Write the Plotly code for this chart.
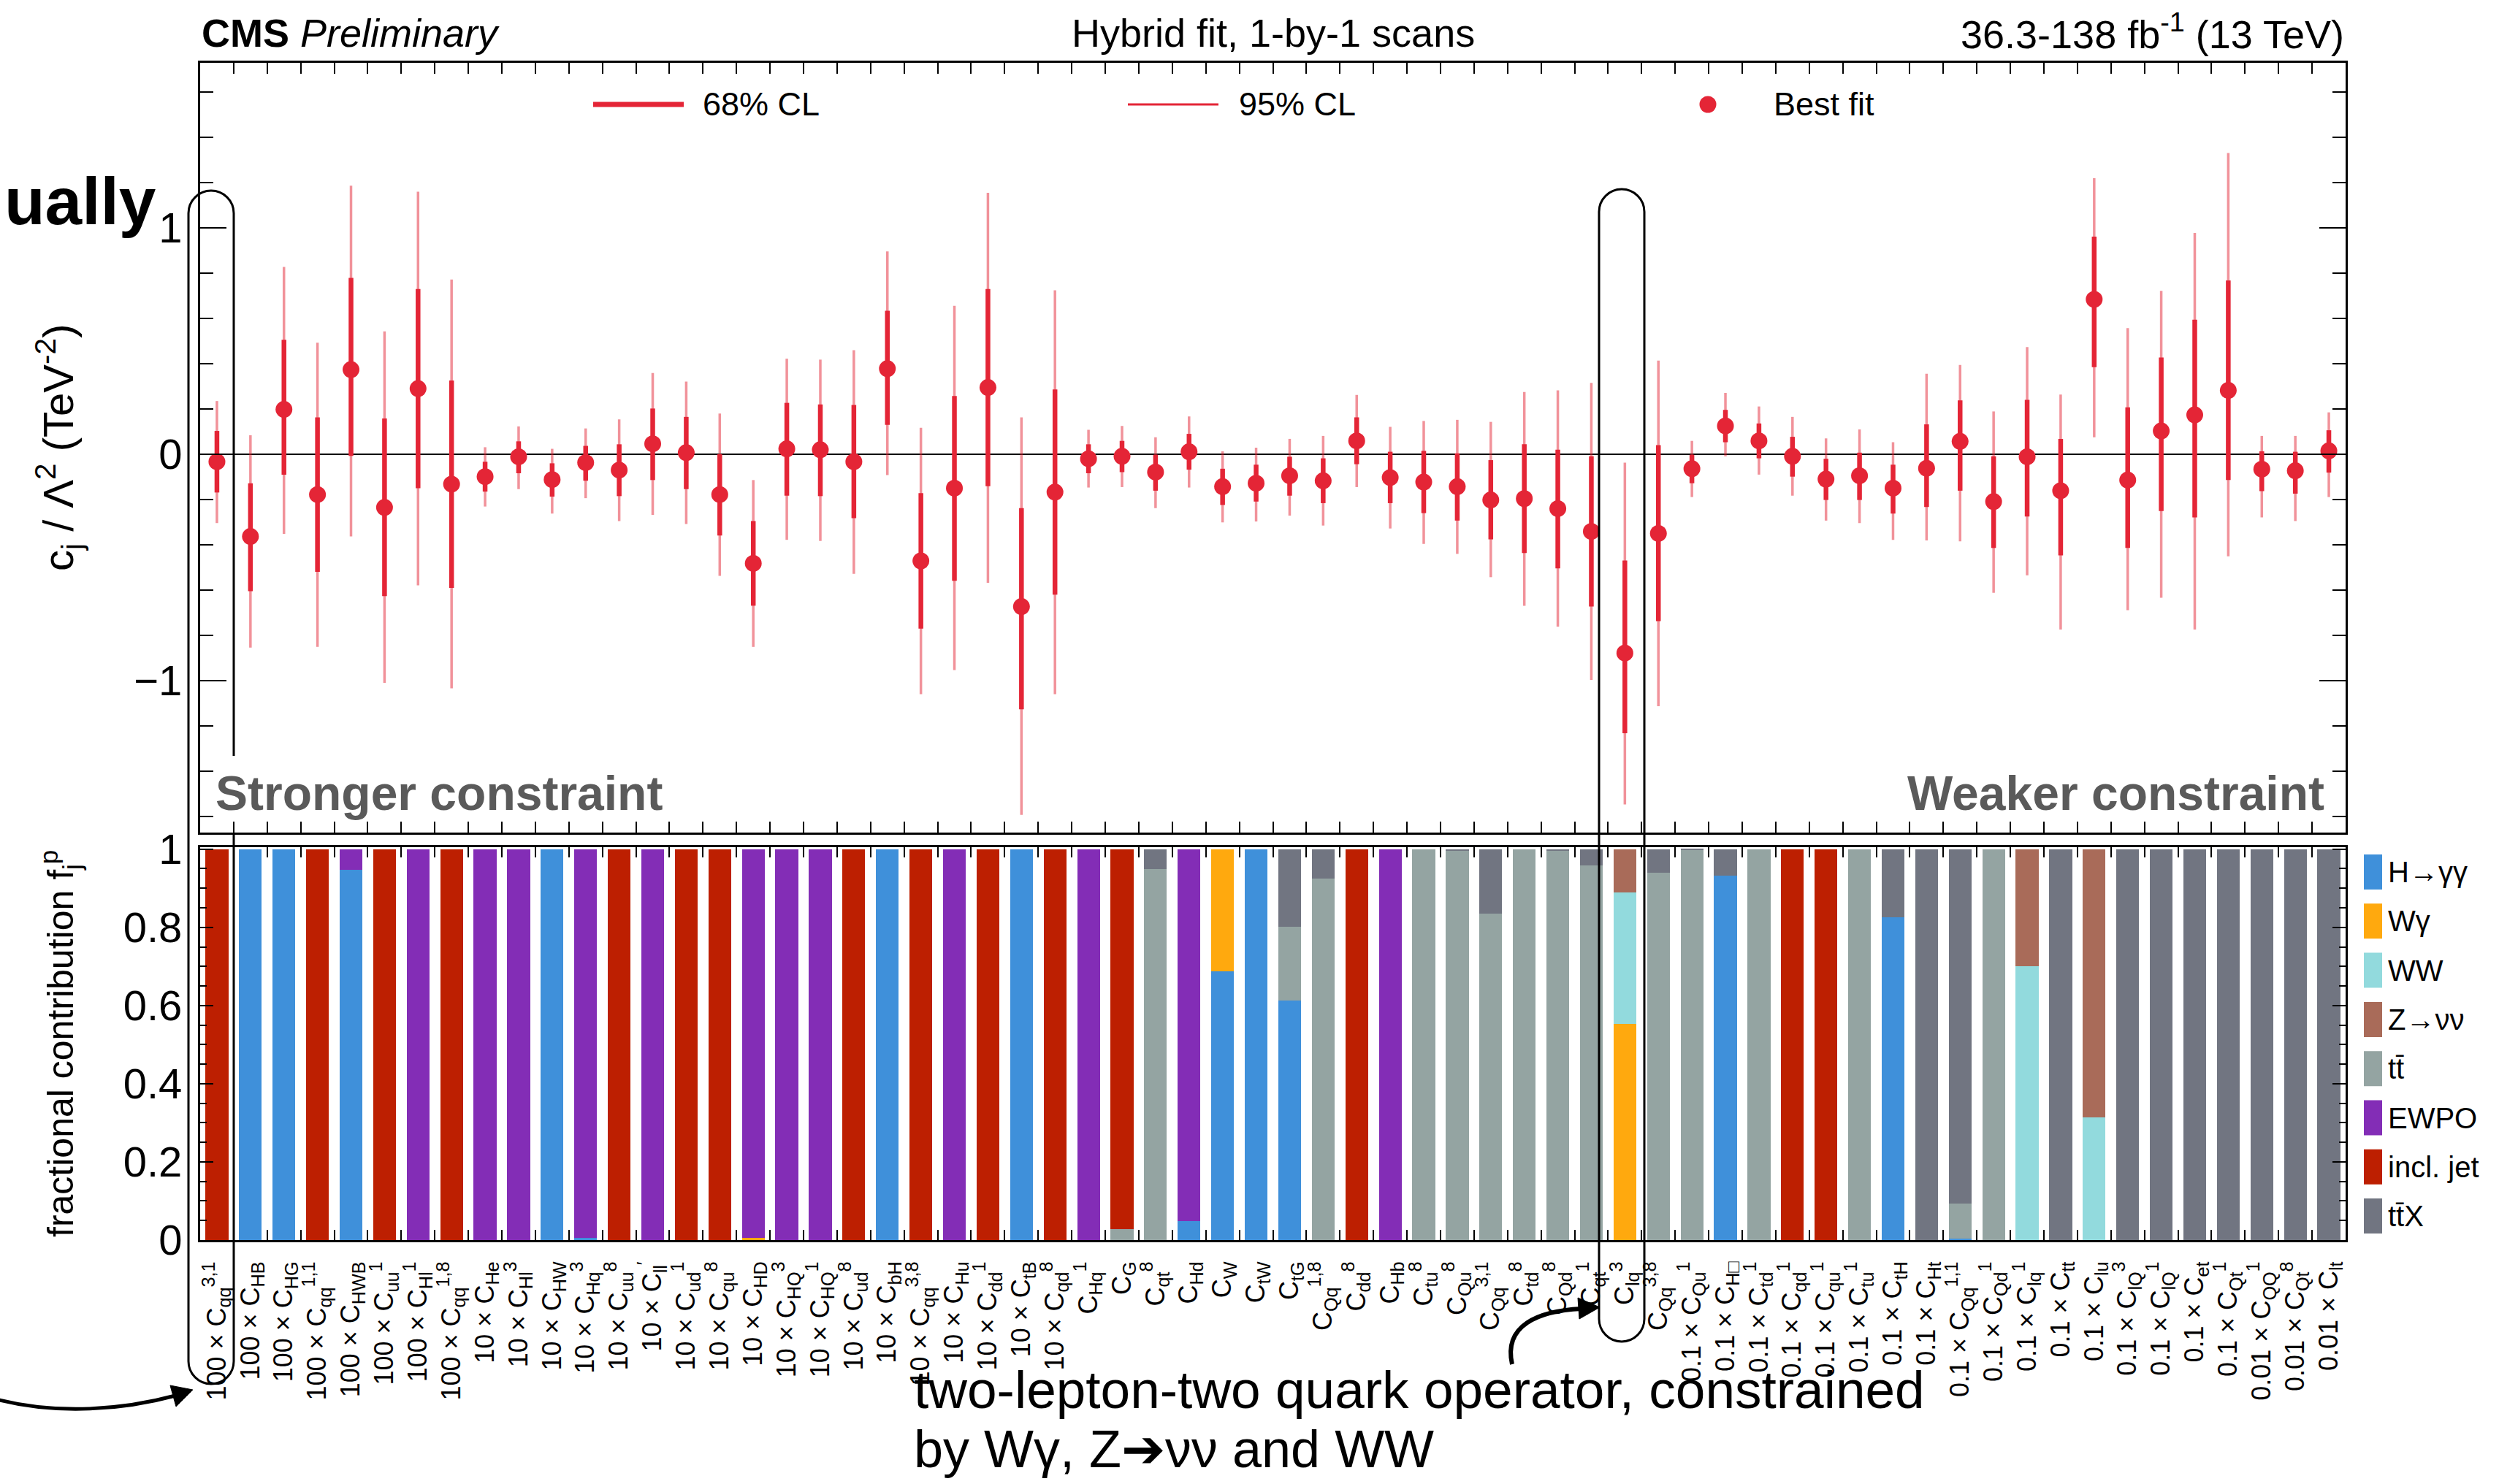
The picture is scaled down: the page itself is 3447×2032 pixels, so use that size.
import plotly.graph_objects as go

W, H = 3447, 2032

# ---------------- data ----------------
labels = [
    "100 × C<sub>qq</sub><sup>3,1</sup>", "100 × C<sub>HB</sub>", "100 × C<sub>HG</sub>",
    "100 × C<sub>qq</sub><sup>1,1</sup>", "100 × C<sub>HWB</sub>", "100 × C<sub>uu</sub><sup>1</sup>",
    "100 × C<sub>Hl</sub><sup>1</sup>", "100 × C<sub>qq</sub><sup>1,8</sup>",
    "10 × C<sub>He</sub>", "10 × C<sub>Hl</sub><sup>3</sup>", "10 × C<sub>HW</sub>",
    "10 × C<sub>Hq</sub><sup>3</sup>", "10 × C<sub>uu</sub><sup>8</sup>", "10 × C<sub>ll</sub><sup>′</sup>",
    "10 × C<sub>ud</sub><sup>1</sup>", "10 × C<sub>qu</sub><sup>8</sup>",
    "10 × C<sub>HD</sub>", "10 × C<sub>HQ</sub><sup>3</sup>", "10 × C<sub>HQ</sub><sup>1</sup>",
    "10 × C<sub>ud</sub><sup>8</sup>", "10 × C<sub>bH</sub>", "10 × C<sub>qq</sub><sup>3,8</sup>",
    "10 × C<sub>Hu</sub>", "10 × C<sub>dd</sub><sup>1</sup>",
    "10 × C<sub>tB</sub>", "10 × C<sub>qd</sub><sup>8</sup>", "C<sub>Hq</sub><sup>1</sup>",
    "C<sub>G</sub>", "C<sub>qt</sub><sup>8</sup>", "C<sub>Hd</sub>", "C<sub>W</sub>", "C<sub>tW</sub>",
    "C<sub>tG</sub>", "C<sub>Qq</sub><sup>1,8</sup>", "C<sub>dd</sub><sup>8</sup>", "C<sub>Hb</sub>",
    "C<sub>tu</sub><sup>8</sup>", "C<sub>Qu</sub><sup>8</sup>", "C<sub>Qq</sub><sup>3,1</sup>",
    "C<sub>td</sub><sup>8</sup>",
    "C<sub>Qd</sub><sup>8</sup>", "C<sub>qt</sub><sup>1</sup>", "C<sub>lq</sub><sup>3</sup>",
    "C<sub>Qq</sub><sup>3,8</sup>", "0.1 × C<sub>Qu</sub><sup>1</sup>", "0.1 × C<sub>H□</sub>",
    "0.1 × C<sub>td</sub><sup>1</sup>", "0.1 × C<sub>qd</sub><sup>1</sup>",
    "0.1 × C<sub>qu</sub><sup>1</sup>", "0.1 × C<sub>tu</sub><sup>1</sup>", "0.1 × C<sub>tH</sub>",
    "0.1 × C<sub>Ht</sub>", "0.1 × C<sub>Qq</sub><sup>1,1</sup>", "0.1 × C<sub>Qd</sub><sup>1</sup>",
    "0.1 × C<sub>lq</sub><sup>1</sup>", "0.1 × C<sub>tt</sub>",
    "0.1 × C<sub>lu</sub>", "0.1 × C<sub>lQ</sub><sup>3</sup>", "0.1 × C<sub>lQ</sub><sup>1</sup>",
    "0.1 × C<sub>et</sub>", "0.1 × C<sub>Qt</sub><sup>1</sup>", "0.01 × C<sub>QQ</sub><sup>1</sup>",
    "0.01 × C<sub>Qt</sub><sup>8</sup>", "0.01 × C<sub>lt</sub>",
]

best = [-0.033, -0.363, 0.198, -0.178, 0.374, -0.235, 0.290, -0.132,
        -0.099, -0.011, -0.112, -0.037, -0.070, 0.046, 0.007, -0.178,
        -0.482, 0.024, 0.020, -0.033, 0.378, -0.471, -0.150, 0.295,
        -0.673, -0.167, -0.020, -0.009, -0.079, 0.011, -0.143, -0.128,
        -0.095, -0.117, 0.059, -0.103, -0.123, -0.143, -0.202, -0.196,
        -0.240, -0.341, -0.878, -0.350, -0.064, 0.125, 0.059, -0.009,
        -0.110, -0.095, -0.150, -0.062, 0.057, -0.209, -0.011, -0.161,
        0.684, -0.114, 0.103, 0.174, 0.282, -0.066, -0.073, 0.015]
lo68 = [-0.169, -0.605, -0.090, -0.519, -0.007, -0.627, -0.150, -0.590,
        -0.165, -0.084, -0.187, -0.117, -0.185, -0.114, -0.154, -0.359,
        -0.669, -0.183, -0.185, -0.282, 0.130, -0.770, -0.559, -0.141,
        -1.127, -0.620, -0.084, -0.079, -0.161, -0.068, -0.224, -0.209,
        -0.183, -0.216, -0.044, -0.216, -0.260, -0.293, -0.376, -0.436,
        -0.504, -0.673, -1.232, -0.737, -0.128, 0.053, -0.018, -0.099,
        -0.202, -0.202, -0.262, -0.233, -0.161, -0.414, -0.275, -0.447,
        0.385, -0.414, -0.251, -0.279, -0.114, -0.163, -0.174, -0.081]
hi68 = [0.103, -0.128, 0.506, 0.163, 0.779, 0.158, 0.730, 0.326,
        -0.033, 0.057, -0.040, 0.037, 0.044, 0.202, 0.165, 0.000,
        -0.295, 0.227, 0.220, 0.218, 0.634, -0.172, 0.257, 0.730,
        -0.238, 0.286, 0.044, 0.059, -0.002, 0.090, -0.064, -0.046,
        -0.011, -0.018, 0.163, 0.011, 0.015, 0.004, -0.026, 0.044,
        0.020, -0.009, -0.469, 0.040, -0.002, 0.196, 0.136, 0.077,
        -0.020, 0.007, -0.046, 0.132, 0.238, -0.009, 0.240, 0.068,
        0.961, 0.207, 0.427, 0.594, 0.768, 0.013, 0.011, 0.106]
lo95 = [-0.304, -0.854, -0.352, -0.851, -0.363, -1.010, -0.579, -1.034,
        -0.231, -0.154, -0.262, -0.194, -0.295, -0.268, -0.308, -0.537,
        -0.851, -0.378, -0.383, -0.528, -0.092, -1.060, -0.953, -0.568,
        -1.593, -1.060, -0.147, -0.145, -0.238, -0.147, -0.301, -0.297,
        -0.271, -0.315, -0.145, -0.328, -0.396, -0.440, -0.543, -0.669,
        -0.761, -0.997, -1.547, -1.113, -0.189, -0.009, -0.090, -0.183,
        -0.293, -0.304, -0.378, -0.381, -0.385, -0.612, -0.535, -0.774,
        0.075, -0.689, -0.634, -0.774, -0.451, -0.279, -0.295, -0.189]
hi95 = [0.235, 0.084, 0.827, 0.493, 1.186, 0.543, 1.160, 0.772,
        0.031, 0.123, 0.024, 0.114, 0.154, 0.359, 0.321, 0.180,
        -0.114, 0.422, 0.418, 0.460, 0.896, 0.117, 0.656, 1.155,
        0.163, 0.724, 0.108, 0.125, 0.075, 0.167, 0.013, 0.029,
        0.068, 0.081, 0.262, 0.121, 0.147, 0.152, 0.143, 0.275,
        0.282, 0.315, -0.037, 0.414, 0.059, 0.271, 0.211, 0.165,
        0.070, 0.110, 0.053, 0.356, 0.394, 0.189, 0.473, 0.264,
        1.219, 0.557, 0.722, 0.977, 1.331, 0.081, 0.081, 0.185]

frac_hgg = [0, 1, 1, 0, 0.947, 0, 0, 0,
            0, 0, 1, 0.005, 0, 0, 0, 0,
            0, 0, 0, 0, 1, 0, 0, 0,
            1, 0, 0, 0, 0, 0.048, 0.688, 1,
            0.613, 0, 0, 0, 0, 0, 0, 0,
            0, 0, 0, 0, 0, 0.933, 0, 0,
            0, 0, 0.826, 0, 0.003, 0, 0, 0,
            0, 0, 0, 0, 0, 0, 0, 0]
frac_wg = [0, 0, 0, 0, 0, 0, 0, 0,
           0, 0, 0, 0, 0, 0, 0, 0,
           0.005, 0, 0, 0, 0, 0, 0, 0,
           0, 0, 0, 0, 0, 0, 0.312, 0,
           0, 0, 0, 0, 0, 0, 0, 0,
           0, 0, 0.553, 0, 0, 0, 0, 0,
           0, 0, 0, 0, 0, 0, 0, 0,
           0, 0, 0, 0, 0, 0, 0, 0]
frac_ww = [0, 0, 0, 0, 0, 0, 0, 0,
           0, 0, 0, 0, 0, 0, 0, 0,
           0, 0, 0, 0, 0, 0, 0, 0,
           0, 0, 0, 0, 0, 0, 0, 0,
           0, 0, 0, 0, 0, 0, 0, 0,
           0, 0, 0.336, 0, 0, 0, 0, 0,
           0, 0, 0, 0, 0, 0, 0.700, 0,
           0.314, 0, 0, 0, 0, 0, 0, 0]
frac_znn = [0, 0, 0, 0, 0, 0, 0, 0,
            0, 0, 0, 0, 0, 0, 0, 0,
            0, 0, 0, 0, 0, 0, 0, 0,
            0, 0, 0, 0, 0, 0, 0, 0,
            0, 0, 0, 0, 0, 0, 0, 0,
            0, 0, 0.111, 0, 0, 0, 0, 0,
            0, 0, 0, 0, 0, 0, 0.300, 0,
            0.686, 0, 0, 0, 0, 0, 0, 0]
frac_tt = [0, 0, 0, 0, 0, 0, 0, 0,
           0, 0, 0, 0, 0, 0, 0, 0,
           0, 0, 0, 0, 0, 0, 0, 0,
           0, 0, 0, 0.028, 0.949, 0, 0, 0,
           0.189, 0.925, 0, 0, 1, 0.996, 0.835, 1,
           0.996, 0.958, 0, 0.939, 0.998, 0, 1, 0,
           0, 1, 0, 0, 0.090, 1, 0, 0,
           0, 0, 0, 0, 0, 0, 0, 0]
frac_ewpo = [0, 0, 0, 0, 0.053, 0, 1, 0,
             1, 1, 0, 0.995, 0, 1, 0, 0,
             0.995, 1, 1, 0, 0, 0, 1, 0,
             0, 0, 1, 0, 0, 0.952, 0, 0,
             0, 0, 0, 1, 0, 0, 0, 0,
             0, 0, 0, 0, 0, 0, 0, 0,
             0, 0, 0, 0, 0, 0, 0, 0,
             0, 0, 0, 0, 0, 0, 0, 0]
frac_jet = [1, 0, 0, 1, 0, 1, 0, 1,
            0, 0, 0, 0, 1, 0, 1, 1,
            0, 0, 0, 1, 0, 1, 0, 1,
            0, 1, 0, 0.972, 0, 0, 0, 0,
            0, 0, 1, 0, 0, 0, 0, 0,
            0, 0, 0, 0, 0, 0, 0, 1,
            1, 0, 0, 0, 0, 0, 0, 0,
            0, 0, 0, 0, 0, 0, 0, 0]
frac_ttx = [0, 0, 0, 0, 0, 0, 0, 0,
            0, 0, 0, 0, 0, 0, 0, 0,
            0, 0, 0, 0, 0, 0, 0, 0,
            0, 0, 0, 0, 0.051, 0, 0, 0,
            0.198, 0.075, 0, 0, 0, 0.004, 0.165, 0,
            0.004, 0.042, 0, 0.061, 0.002, 0.067, 0, 0,
            0, 0, 0.174, 1, 0.907, 0, 0, 1,
            0, 1, 1, 1, 1, 1, 1, 1]

process_names = ["H→γγ", "Wγ", "WW", "Z→νν", "tt\u0304", "EWPO", "incl. jet", "tt\u0304X"]
process_colors = ["#3f90da", "#ffa90e", "#92dadd", "#a96b59", "#94a4a2", "#832db6", "#bd1f01", "#717581"]
process_fracs = [frac_hgg, frac_wg, frac_ww, frac_znn, frac_tt, frac_ewpo, frac_jet, frac_ttx]

# ---------------- helpers (pixel -> paper) ----------------
def xp(px):
    return px / W

def yp(py):
    return 1 - py / H

def path(cmds):
    out = []
    for c in cmds:
        if isinstance(c, str):
            out.append(c)
        else:
            out.append("%.6f,%.6f" % (xp(c[0]), yp(c[1])))
    return " ".join(out)

FONT = "Liberation Sans, Arial, Helvetica, sans-serif"
RED = "#e42536"

xs = list(range(len(labels)))
e95p = [h - b for h, b in zip(hi95, best)]
e95m = [b - l for b, l in zip(best, lo95)]
e68p = [h - b for h, b in zip(hi68, best)]
e68m = [b - l for b, l in zip(best, lo68)]

fig = go.Figure()

for name, col, fr in zip(process_names, process_colors, process_fracs):
    fig.add_trace(go.Bar(x=xs, y=fr, name=name, width=0.68,
                         marker=dict(color=col, line=dict(width=0)),
                         xaxis="x2", yaxis="y2", showlegend=False))

fig.add_trace(go.Scatter(x=xs, y=best, mode="markers", name="95% CL",
                         marker=dict(size=1, color="rgba(0,0,0,0)"),
                         error_y=dict(type="data", symmetric=False, array=e95p, arrayminus=e95m,
                                      color="rgba(228,37,54,0.5)", thickness=3.5, width=0),
                         xaxis="x", yaxis="y", showlegend=False))
fig.add_trace(go.Scatter(x=xs, y=best, mode="markers", name="68% CL",
                         marker=dict(size=1, color="rgba(0,0,0,0)"),
                         error_y=dict(type="data", symmetric=False, array=e68p, arrayminus=e68m,
                                      color=RED, thickness=6.5, width=0),
                         xaxis="x", yaxis="y", showlegend=False))
fig.add_trace(go.Scatter(x=xs, y=best, mode="markers", name="Best fit",
                         marker=dict(size=23, color=RED, line=dict(width=0)),
                         xaxis="x", yaxis="y", showlegend=False))

# ---------------- layout geometry ----------------
XL, XR = 274, 3211
TOP_T, TOP_B = 86, 1140
BOT_T, BOT_B = 1160, 1698
xdom = [xp(XL), xp(XR)]

axis_common = dict(showline=True, linecolor="black", linewidth=3, mirror="allticks",
                   showgrid=False, zeroline=False, tickcolor="black", tickwidth=2,
                   automargin=False)

fig.update_layout(
    width=W, height=H,
    autosize=False,
    margin=dict(l=0, r=0, t=0, b=0, pad=0, autoexpand=False),
    paper_bgcolor="white", plot_bgcolor="white",
    font=dict(family=FONT, color="black"),
    barmode="stack", bargap=0.32,
    showlegend=False,
    xaxis=dict(domain=xdom, anchor="y", range=[-0.5, len(labels) - 0.5],
               tickmode="linear", tick0=0.5, dtick=1, ticks="inside", ticklen=15,
               showticklabels=False, **axis_common),
    yaxis=dict(domain=[yp(TOP_B), yp(TOP_T)], anchor="x", range=[-1.671, 1.729],
               tickmode="array", tickvals=[-1, 0, 1], ticktext=["−1", "0", "1"],
               ticks="inside", ticklen=36,
               minor=dict(dtick=0.2, tick0=0, ticks="inside", ticklen=18, tickwidth=2,
                          tickcolor="black"),
               tickfont=dict(size=58), ticklabelstandoff=10,
               showline=True, linecolor="black", linewidth=3, mirror="allticks",
               showgrid=False, zeroline=True, zerolinecolor="black", zerolinewidth=1.5,
               tickcolor="black", tickwidth=2, automargin=False),
    xaxis2=dict(domain=xdom, anchor="y2", range=[-0.5, len(labels) - 0.5],
                tickmode="array", tickvals=xs, ticktext=labels, ticks="",
                tickangle=-90, tickfont=dict(size=36), ticklabelstandoff=12,
                minor=dict(tickmode="array", tickvals=[i + 0.5 for i in range(len(labels) - 1)],
                           ticks="inside", ticklen=14, tickwidth=2, tickcolor="black"),
                **axis_common),
    yaxis2=dict(domain=[yp(BOT_B), yp(BOT_T)], anchor="x2", range=[0, 1.005],
                tickmode="array", tickvals=[0, 0.2, 0.4, 0.6, 0.8, 1],
                ticktext=["0", "0.2", "0.4", "0.6", "0.8", "1"],
                ticks="inside", ticklen=18,
                minor=dict(dtick=0.05, tick0=0, ticks="inside", ticklen=9, tickwidth=2,
                           tickcolor="black"),
                tickfont=dict(size=58), ticklabelstandoff=10, **axis_common),
)

ann = []
def text(t, x, y, size, xanchor="left", yanchor="middle", color="black", angle=0):
    ann.append(dict(text=t, x=xp(x), y=yp(y), xref="paper", yref="paper",
                    xanchor=xanchor, yanchor=yanchor, showarrow=False, textangle=angle,
                    font=dict(size=size, color=color, family=FONT)))

# header
text("<b>CMS</b> <i>Preliminary</i>", XL, 45, 54)
text("Hybrid fit, 1-by-1 scans", (XL + XR) / 2, 45, 54, xanchor="center")
text("36.3-138 fb<sup>-1</sup> (13 TeV)", XR, 43, 54, xanchor="right")
# top legend texts
text("68% CL", 960, 143, 45)
text("95% CL", 1694, 143, 45)
text("Best fit", 2426, 143, 45)
# constraint labels
text("<b>Stronger constraint</b>", 293, 1086, 66, color="#5a5a5a")
text("<b>Weaker constraint</b>", 3184, 1086, 66, xanchor="right", color="#5a5a5a")
# axis titles
text("c<sub>j</sub> / Λ<sup>2</sup> (TeV<sup>-2</sup>)", 80, 613, 58, xanchor="center", angle=-90)
text("fractional contribution f<sub>j</sub><sup>p</sup>", 82, 1429, 50, xanchor="center", angle=-90)
# slide annotations
text("<b>ually</b>", 216, 276, 91, xanchor="right")
text("two-lepton-two quark operator, constrained", 1249, 1902, 73)
text("by Wγ, Z➔νν and WW", 1249, 1984, 72)
# bottom-right legend texts
leg_y = [1194 + 67.3 * i for i in range(len(process_names))]
for nm, yy in zip(process_names, leg_y):
    text(nm, 3267, yy, 40)

shapes = []
# top legend symbols
shapes.append(dict(type="line", xref="paper", yref="paper", x0=xp(812), x1=xp(936),
                   y0=yp(143), y1=yp(143), line=dict(color=RED, width=7)))
shapes.append(dict(type="line", xref="paper", yref="paper", x0=xp(1544), x1=xp(1668),
                   y0=yp(143), y1=yp(143), line=dict(color=RED, width=3)))
shapes.append(dict(type="circle", xref="paper", yref="paper", x0=xp(2338 - 11.5), x1=xp(2338 + 11.5),
                   y0=yp(143 + 11.5), y1=yp(143 - 11.5), fillcolor=RED, line=dict(width=0)))
# bottom-right legend boxes
for col, yy in zip(process_colors, leg_y):
    shapes.append(dict(type="rect", xref="paper", yref="paper", x0=xp(3236), x1=xp(3261),
                       y0=yp(yy + 24), y1=yp(yy - 24), fillcolor=col, line=dict(width=0)))

# pills
k = 0.5523
def pill_cmds(L, R, top, bottom, gap=None):
    r = (R - L) / 2.0
    cx = (L + R) / 2.0
    yt, yb = top + r, bottom - r
    start = (R, gap[0]) if gap else (R, yt)
    cmds = ["M", start, "L", (R, yt),
            "C", (R, yt - k * r), (cx + k * r, top), (cx, top),
            "C", (cx - k * r, top), (L, yt - k * r), (L, yt),
            "L", (L, yb),
            "C", (L, yb + k * r), (cx - k * r, bottom), (cx, bottom),
            "C", (cx + k * r, bottom), (R, yb + k * r), (R, yb)]
    if gap:
        cmds += ["L", (R, gap[1])]
    else:
        cmds += ["Z"]
    return cmds

shapes.append(dict(type="path", xref="paper", yref="paper",
                   path=path(pill_cmds(258, 320, 261, 1895, gap=(1035, 1142))),
                   line=dict(color="black", width=3), layer="above"))
shapes.append(dict(type="path", xref="paper", yref="paper",
                   path=path(pill_cmds(2189, 2251, 259, 1837)),
                   line=dict(color="black", width=3), layer="above"))

# arrows
shapes.append(dict(type="path", xref="paper", yref="paper",
                   path=path(["M", (-5, 1916), "C", (80, 1938), (170, 1930), (240, 1911)]),
                   line=dict(color="black", width=5)))
shapes.append(dict(type="path", xref="paper", yref="paper",
                   path=path(["M", (264, 1903), "L", (233, 1897), "L", (241, 1926), "Z"]),
                   fillcolor="black", line=dict(color="black", width=1)))
shapes.append(dict(type="path", xref="paper", yref="paper",
                   path=path(["M", (2070, 1868), "C", (2058, 1815), (2105, 1795), (2165, 1792)]),
                   line=dict(color="black", width=6)))
shapes.append(dict(type="path", xref="paper", yref="paper",
                   path=path(["M", (2190, 1790), "L", (2160, 1777), "L", (2162, 1806), "Z"]),
                   fillcolor="black", line=dict(color="black", width=1)))

fig.update_layout(annotations=ann, shapes=shapes)

fig.write_html("out.html", include_plotlyjs=True, config={"displayModeBar": False, "responsive": False},
               post_script="document.body.style.margin='0';document.body.style.overflow='hidden';")
